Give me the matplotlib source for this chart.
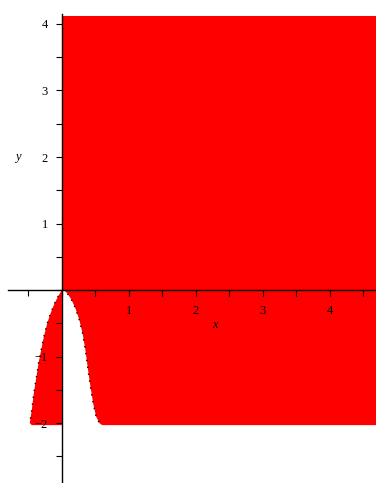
import matplotlib
matplotlib.use("Agg")
import matplotlib.pyplot as plt
from matplotlib.ticker import MultipleLocator

# Region boundaries (x, y)
top_y = 4.12
bottom_y = -2.03
right_x = 4.8

# left lobe: curve from origin down to the bottom-left corner
lobe_x = [0, -0.05, -0.11, -0.17, -0.22, -0.27, -0.31, -0.35, -0.38, -0.42, -0.45, -0.48]
lobe_y = [0, -0.08, -0.20, -0.35, -0.50, -0.70, -0.90, -1.10, -1.30, -1.55, -1.80, -2.00]

# inner curve of the white gap right of the y-axis
gap_x = [0, 0.04, 0.08, 0.14, 0.20, 0.26, 0.31, 0.35, 0.39, 0.43, 0.47, 0.51, 0.56, 0.60]
gap_y = [0, -0.01, -0.05, -0.14, -0.27, -0.45, -0.66, -0.90, -1.20, -1.48, -1.72, -1.90, -2.00, -2.03]

xticks = [1, 2, 3, 4]
yticks = [-2, -1, 1, 2, 3, 4]

plt.rcParams['font.family'] = ['Liberation Serif', 'DejaVu Serif']

fig = plt.figure(figsize=(3.76, 4.83), dpi=100)
ax = fig.add_axes([0, 0, 1, 1])

# main region: up the y-axis, across the top, down the right, back along the bottom
main_x = [0, 0, right_x, right_x] + gap_x[::-1]
main_y = [0, top_y, top_y, bottom_y] + gap_y[::-1]
ax.fill(main_x, main_y, color='#ff0000', lw=0, zorder=1)

# left lobe
lx = lobe_x + [-0.45, -0.2, 0]
ly = lobe_y + [bottom_y, bottom_y, bottom_y]
ax.fill(lx, ly, color='#ff0000', lw=0, zorder=1)

# dotted dark outlines along the curved edges
ax.plot(lobe_x, lobe_y, color='black', lw=1, ls=(0, (1, 4)), zorder=2)
ax.plot(gap_x, gap_y, color='black', lw=1, ls=(0, (1, 4)), zorder=2)

ax.set_xlim(-0.925, 4.69)
ax.set_ylim(-2.9, 4.36)

for s in ['top', 'right']:
    ax.spines[s].set_visible(False)
ax.spines['left'].set_position(('data', 0))
ax.spines['bottom'].set_position(('data', 0))
ax.spines['left'].set_bounds(-2.9, 4.15)
ax.spines['bottom'].set_bounds(-0.8, 4.69)
for s in ['left', 'bottom']:
    ax.spines[s].set_linewidth(1)
    ax.spines[s].set_zorder(3)

ax.set_xticks(xticks)
ax.set_yticks(yticks)
ax.xaxis.set_minor_locator(MultipleLocator(0.5))
ax.yaxis.set_minor_locator(MultipleLocator(0.5))
ax.tick_params(which='both', direction='out', length=4, width=0.8, labelsize=9,
               colors='black', zorder=3)
ax.tick_params(axis='x', pad=7)
ax.tick_params(axis='y', pad=6)

for lab in ax.get_xticklabels() + ax.get_yticklabels():
    lab.set_zorder(4)

ax.text(2.28, -0.53, 'x', fontsize=9, style='italic', ha='center', va='center', zorder=4)
ax.text(-0.66, 2.0, 'y', fontsize=9, style='italic', ha='center', va='center', zorder=4)

fig.savefig('out.png', dpi=100)
